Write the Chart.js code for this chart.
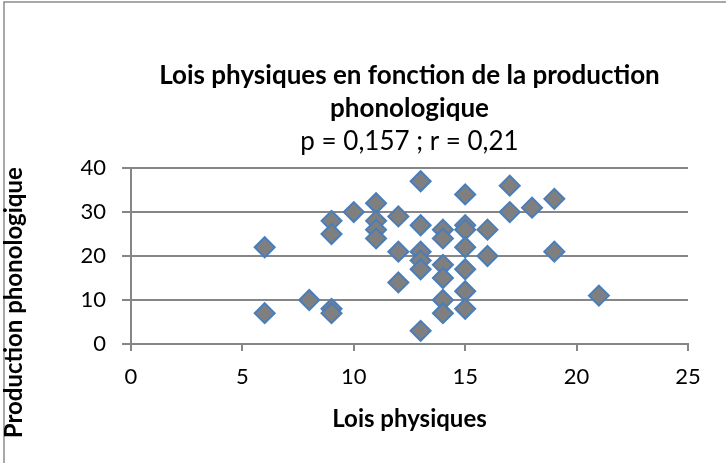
<!DOCTYPE html>
<html>
<head>
<meta charset="utf-8">
<script src="https://cdn.jsdelivr.net/npm/chart.js@4.4.1/dist/chart.umd.min.js"></script>
<style>
  html, body { margin: 0; padding: 0; background: #ffffff; }
  #wrap { position: relative; width: 726px; height: 463px; }
  canvas { display: block; }
</style>
</head>
<body>
<div id="wrap"><canvas id="c" width="726" height="463"></canvas></div>
<script>
// Data
const loisPhysiques = [6, 6, 8, 9, 9, 9, 9, 10, 11, 11, 11, 11, 12, 12, 12,
  13, 13, 13, 13, 13, 13, 14, 14, 14, 14, 14, 14,
  15, 15, 15, 15, 15, 15, 15, 16, 16, 17, 17, 18, 19, 19, 21];
const productionPhonologique = [22, 7, 10, 28, 25, 8, 7, 30, 32, 28, 26, 24, 29, 21, 14,
  37, 27, 21, 19, 17, 3, 26, 24, 18, 15, 10, 7,
  34, 27, 26, 22, 17, 12, 8, 26, 20, 36, 30, 31, 33, 21, 11];
const titleLines = ['Lois physiques en fonction de la production', 'phonologique'];
const subtitleText = 'p = 0,157 ; r = 0,21';
const xAxisTitle = 'Lois physiques';
const yAxisTitle = 'Production phonologique';
const xTicks = [0, 5, 10, 15, 20, 25];
const yTicks = [0, 10, 20, 30, 40];

const points = loisPhysiques.map((x, i) => ({ x: x, y: productionPhonologique[i] }));

const FONT = 'Lato, "Open Sans", sans-serif';
const GRID = '#868686';

const frame = {
  id: 'frame',
  beforeDraw(chart) {
    const ctx = chart.ctx;
    ctx.save();
    ctx.strokeStyle = '#8c8c8c';
    ctx.lineWidth = 1.5;
    ctx.beginPath();
    ctx.moveTo(4, chart.height);
    ctx.lineTo(4, 2);
    ctx.lineTo(chart.width, 2);
    ctx.stroke();
    ctx.restore();
  }
};

// the vertical title sits lower than the plot centre in the reference;
// trailing no-break spaces shift the centred rotated text downward
const yTitleShifted = yAxisTitle + '\u00A0'.repeat(16);

new Chart(document.getElementById('c'), {
  type: 'scatter',
  data: {
    datasets: [{
      data: points,
      pointStyle: 'rectRot',
      pointRadius: 10,
      pointHoverRadius: 10,
      backgroundColor: '#7f7f7f',
      borderColor: '#4a7ebb',
      borderWidth: 2
    }]
  },
  options: {
    responsive: false,
    animation: false,
    events: [],
    layout: { padding: { top: 40, left: 0, right: 38, bottom: 20 } },
    plugins: {
      legend: { display: false },
      tooltip: { enabled: false },
      title: {
        display: true,
        fullSize: false,
        text: titleLines,
        color: '#000000',
        font: { family: FONT, size: 26, weight: 'bold', lineHeight: 1.27 },
        padding: { top: 19.5, bottom: 0 }
      },
      subtitle: {
        display: true,
        fullSize: false,
        text: subtitleText,
        color: '#000000',
        font: { family: FONT, size: 26, weight: 'normal', lineHeight: 1.27 },
        padding: { top: 0, bottom: 9.5 }
      }
    },
    scales: {
      x: {
        type: 'linear',
        min: 0,
        max: 25,
        afterBuildTicks(scale) { scale.ticks = xTicks.map(v => ({ value: v })); },
        border: { display: true, color: GRID, width: 2 },
        grid: { drawOnChartArea: false, drawTicks: true, tickLength: 7, color: GRID, lineWidth: 2 },
        ticks: { color: '#000000', font: { family: FONT, size: 22, lineHeight: 1.0 }, padding: 15 },
        title: {
          display: true,
          text: xAxisTitle,
          color: '#000000',
          font: { family: FONT, size: 24, weight: 'bold', lineHeight: 1.2 },
          padding: { top: 0, bottom: 9.6 }
        },
        afterFit(scale) { scale.height = 463 - 344 - 20; }
      },
      y: {
        type: 'linear',
        min: 0,
        max: 40,
        afterBuildTicks(scale) { scale.ticks = yTicks.map(v => ({ value: v })); },
        border: { display: true, color: GRID, width: 2 },
        grid: { drawOnChartArea: true, drawTicks: true, tickLength: 9, color: GRID, lineWidth: 2 },
        ticks: { color: '#000000', font: { family: FONT, size: 22, lineHeight: 1.0 }, padding: 16 },
        title: {
          display: true,
          text: yTitleShifted,
          color: '#000000',
          font: { family: FONT, size: 24, weight: 'bold', lineHeight: 1.2 },
          padding: { top: 0, bottom: 0 }
        },
        afterFit(scale) { scale.width = 131; }
      }
    }
  },
  plugins: [frame]
});
</script>
</body>
</html>
